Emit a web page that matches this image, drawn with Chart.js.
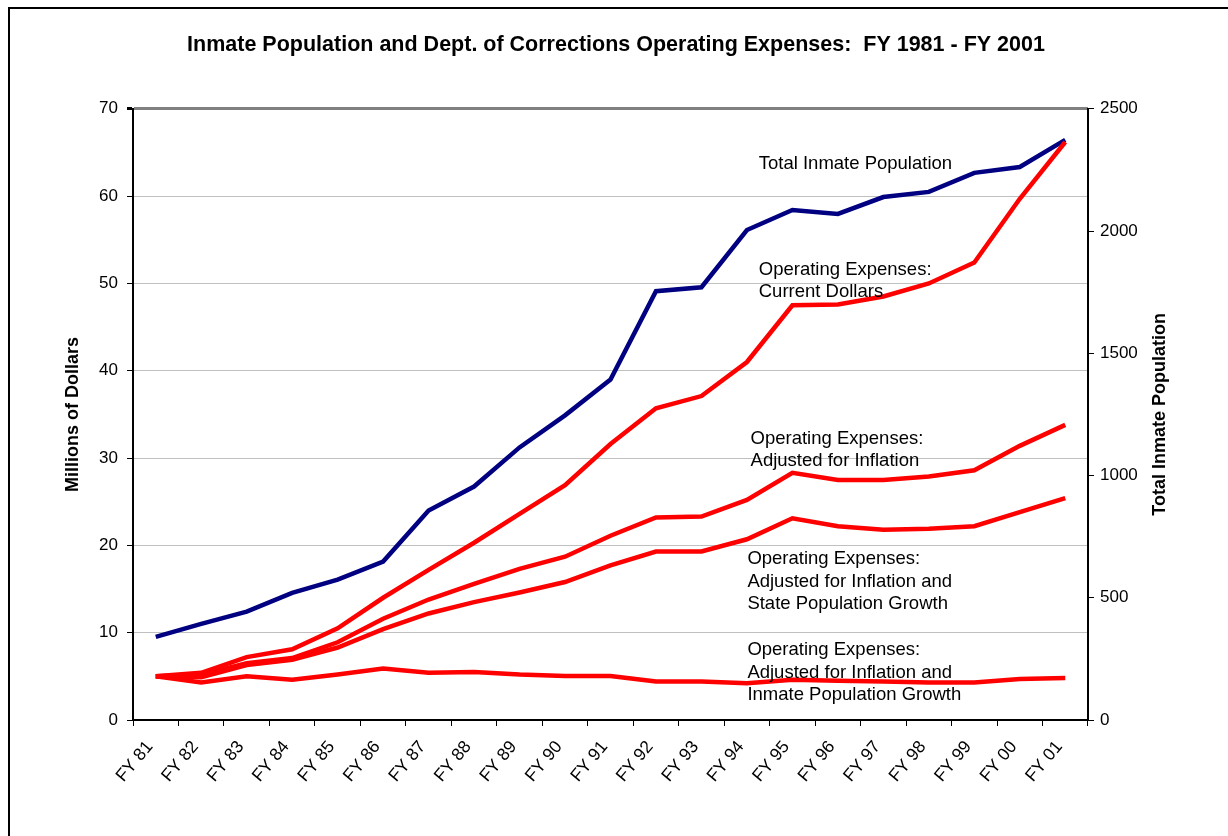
<!DOCTYPE html>
<html>
<head>
<meta charset="utf-8">
<title>Inmate Population and Operating Expenses</title>
<script src="https://cdn.jsdelivr.net/npm/chart.js@4/dist/chart.umd.min.js"></script>
<style>
    body { margin: 0; background: #fff; overflow: hidden; }
    #wrap { position: relative; width: 1228px; height: 836px; }
    #frame {
        position: absolute; left: 8px; top: 7px;
        width: 1400px; height: 1000px;
        border: 2px solid #000;
    }
    #chart { position: absolute; left: 0; top: 0; }
</style>
</head>
<body>
<div id="wrap">
    <div id="frame"></div>
    <canvas id="chart" width="1228" height="836"></canvas>
</div>
<script>
// Fiscal years on the x axis
const years = ['FY 81', 'FY 82', 'FY 83', 'FY 84', 'FY 85', 'FY 86', 'FY 87', 'FY 88', 'FY 89', 'FY 90',
    'FY 91', 'FY 92', 'FY 93', 'FY 94', 'FY 95', 'FY 96', 'FY 97', 'FY 98', 'FY 99', 'FY 00', 'FY 01'];

// Total inmate population (right axis)
const inmatePop = [340, 393, 443, 520, 574, 648, 857, 955, 1115, 1246,
    1393, 1754, 1770, 2004, 2086, 2070, 2139, 2160, 2238, 2262, 2373];

// Operating expenses, millions of dollars (left axis)
const currentDollars = [5.0, 5.4, 7.2, 8.1, 10.5, 14.0, 17.2, 20.3, 23.6, 26.9,
    31.6, 35.7, 37.1, 41.0, 47.5, 47.6, 48.5, 50.0, 52.4, 59.7, 66.2];
const adjInflation = [5.0, 5.2, 6.5, 7.1, 8.9, 11.6, 13.8, 15.6, 17.3, 18.7,
    21.1, 23.2, 23.3, 25.2, 28.3, 27.5, 27.5, 27.9, 28.6, 31.4, 33.8];
const adjStatePop = [5.0, 4.9, 6.3, 6.9, 8.3, 10.4, 12.2, 13.5, 14.6, 15.8,
    17.7, 19.3, 19.3, 20.7, 23.1, 22.2, 21.8, 21.9, 22.2, 23.8, 25.4];
const adjInmatePop = [5.0, 4.3, 5.0, 4.6, 5.2, 5.9, 5.4, 5.5, 5.2, 5.05,
    5.05, 4.4, 4.4, 4.2, 4.6, 4.5, 4.4, 4.3, 4.3, 4.7, 4.8];

// Text notes placed next to the lines (x = category index, y = left axis value)
const notes = [
    { x: 13.26, y: 63.7, lines: ['Total Inmate Population'] },
    { x: 13.26, y: 51.6, lines: ['Operating Expenses:', 'Current Dollars'] },
    { x: 13.08, y: 32.2, lines: ['Operating Expenses:', 'Adjusted for Inflation'] },
    { x: 13.01, y: 18.4, lines: ['Operating Expenses:', 'Adjusted for Inflation and', 'State Population Growth'] },
    { x: 13.01, y: 8.0, lines: ['Operating Expenses:', 'Adjusted for Inflation and', 'Inmate Population Growth'] }
];

const FONT = "'Liberation Sans', Arial, sans-serif";
const NAVY = '#000080';
const RED = '#ff0000';

// Draws the line notes and the right axis title (reads bottom to top)
const notesPlugin = {
    id: 'notes',
    afterDatasetsDraw(chart) {
        const c = chart.ctx;
        const xs = chart.scales.x;
        const ys = chart.scales.y;
        c.save();
        c.fillStyle = '#000';
        c.font = '18.5px ' + FONT;
        c.textAlign = 'left';
        c.textBaseline = 'middle';
        notes.forEach(n => {
            const px = xs.getPixelForValue(n.x);
            const py = ys.getPixelForValue(n.y);
            n.lines.forEach((t, i) => c.fillText(t, px, py + i * 22.5));
        });

        const area = chart.chartArea;
        c.translate(1160, (area.top + area.bottom) / 2);
        c.rotate(-Math.PI / 2);
        c.font = 'bold 18px ' + FONT;
        c.textAlign = 'center';
        c.fillText('Total Inmate Population', 0, 0);
        c.restore();
    }
};

function lineSet(label, data, color, axis) {
    return {
        label: label,
        data: data,
        yAxisID: axis,
        borderColor: color,
        backgroundColor: color,
        borderWidth: 4.5,
        pointRadius: 0,
        tension: 0,
        fill: false
    };
}

const chart = new Chart(document.getElementById('chart').getContext('2d'), {
    type: 'line',
    data: {
        labels: years,
        datasets: [
            lineSet('Operating Expenses: Current Dollars', currentDollars, RED, 'y'),
            lineSet('Total Inmate Population', inmatePop, NAVY, 'y1'),
            lineSet('Operating Expenses: Adjusted for Inflation', adjInflation, RED, 'y'),
            lineSet('Operating Expenses: Adjusted for Inflation and State Population Growth', adjStatePop, RED, 'y'),
            lineSet('Operating Expenses: Adjusted for Inflation and Inmate Population Growth', adjInmatePop, RED, 'y')
        ]
    },
    options: {
        responsive: false,
        animation: false,
        layout: { padding: { left: 58, right: 54, top: 0, bottom: 0 } },
        plugins: {
            legend: { display: false },
            tooltip: { enabled: false },
            title: {
                display: true,
                text: 'Inmate Population and Dept. of Corrections Operating Expenses:  FY 1981 - FY 2001',
                color: '#000',
                font: { family: FONT, size: 21.5, weight: 'bold' },
                padding: { top: 32, bottom: 51 }
            }
        },
        scales: {
            x: {
                offset: true,
                afterFit: s => { s.height = 116; },
                grid: {
                    offset: true,
                    drawOnChartArea: false,
                    tickLength: 6,
                    tickColor: '#000'
                },
                border: { color: '#000', width: 2 },
                ticks: {
                    color: '#000',
                    font: { family: FONT, size: 17.5 },
                    minRotation: 50,
                    maxRotation: 50,
                    padding: 11,
                    labelOffset: -6,
                    autoSkip: false
                }
            },
            y: {
                position: 'left',
                min: 0,
                max: 70,
                afterFit: s => { s.width = 75; },
                grid: {
                    color: ctx => ctx.tick && ctx.tick.value === 70 ? '#808080' : '#c0c0c0',
                    lineWidth: ctx => ctx.tick && ctx.tick.value === 70 ? 3 : 1,
                    tickColor: '#000',
                    tickLength: 6
                },
                border: { color: '#000', width: 2 },
                ticks: {
                    stepSize: 10,
                    color: '#000',
                    font: { family: FONT, size: 17 },
                    padding: 9
                },
                title: {
                    display: true,
                    text: 'Millions of Dollars',
                    color: '#000',
                    font: { family: FONT, size: 18, weight: 'bold' }
                }
            },
            y1: {
                position: 'right',
                min: 0,
                max: 2500,
                afterFit: s => { s.width = 86; },
                grid: {
                    drawOnChartArea: false,
                    tickColor: '#000',
                    tickLength: 6
                },
                border: { color: '#000', width: 2 },
                ticks: {
                    stepSize: 500,
                    color: '#000',
                    font: { family: FONT, size: 17 },
                    padding: 6,
                    callback: v => String(v)
                }
            }
        }
    },
    plugins: [notesPlugin]
});
</script>
</body>
</html>
